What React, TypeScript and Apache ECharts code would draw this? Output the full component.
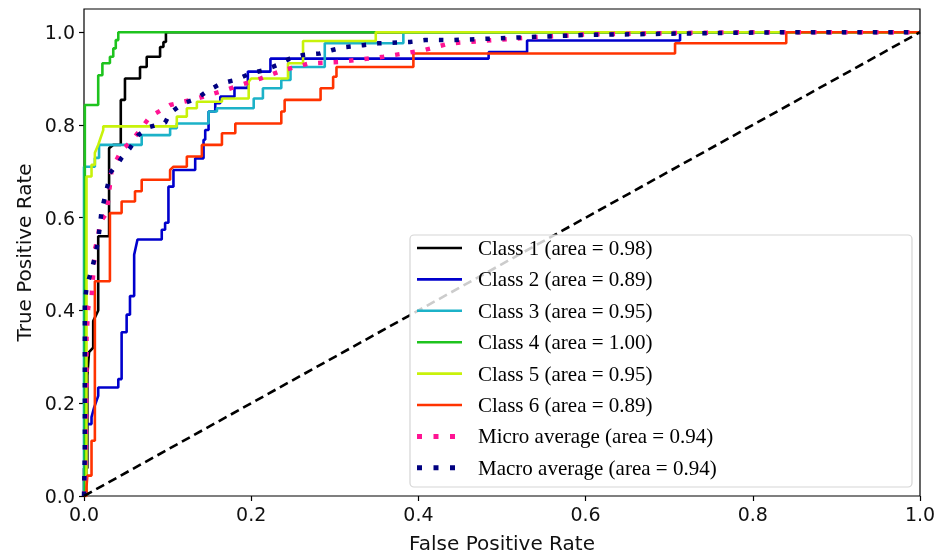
import React, { useEffect, useRef } from "react";
import * as echarts from "echarts";

const seriesNames = [
  "Class 1 (area = 0.98)",
  "Class 2 (area = 0.89)",
  "Class 3 (area = 0.95)",
  "Class 4 (area = 1.00)",
  "Class 5 (area = 0.95)",
  "Class 6 (area = 0.89)",
  "Micro average (area = 0.94)",
  "Macro average (area = 0.94)",
];

const xTicks = [0, 0.2, 0.4, 0.6, 0.8, 1.0];
const yTicks = [0, 0.2, 0.4, 0.6, 0.8, 1.0];

const class1 = [[0,0],[0,0.06],[0.004,0.06],[0.004,0.26],[0.006,0.31],[0.011,0.32],[0.011,0.377],[0.017,0.40],[0.017,0.56],[0.03,0.56],[0.03,0.75],[0.035,0.757],[0.044,0.757],[0.044,0.854],[0.049,0.854],[0.049,0.90],[0.067,0.90],[0.067,0.925],[0.075,0.925],[0.075,0.947],[0.091,0.947],[0.091,0.968],[0.095,0.968],[0.095,0.979],[0.098,0.979],[0.098,1],[1,1]];

const class2 = [[0,0],[0.003,0],[0.003,0.155],[0.009,0.155],[0.009,0.17],[0.012,0.19],[0.017,0.216],[0.017,0.234],[0.041,0.234],[0.041,0.252],[0.045,0.252],[0.045,0.353],[0.051,0.353],[0.051,0.391],[0.055,0.391],[0.055,0.431],[0.06,0.431],[0.06,0.52],[0.064,0.553],[0.093,0.553],[0.093,0.574],[0.097,0.574],[0.097,0.589],[0.101,0.589],[0.101,0.667],[0.107,0.667],[0.107,0.703],[0.133,0.703],[0.133,0.728],[0.143,0.728],[0.143,0.768],[0.145,0.768],[0.145,0.789],[0.149,0.789],[0.149,0.829],[0.157,0.829],[0.157,0.847],[0.163,0.847],[0.163,0.861],[0.18,0.861],[0.18,0.88],[0.196,0.88],[0.196,0.915],[0.223,0.915],[0.223,0.943],[0.484,0.943],[0.484,0.957],[0.53,0.957],[0.53,0.982],[0.713,0.982],[0.713,1],[1,1]];

const class3 = [[0,0],[0,0.71],[0.013,0.71],[0.013,0.729],[0.018,0.729],[0.018,0.757],[0.069,0.757],[0.069,0.778],[0.103,0.778],[0.103,0.793],[0.111,0.793],[0.111,0.803],[0.149,0.803],[0.149,0.829],[0.159,0.829],[0.159,0.836],[0.203,0.836],[0.203,0.857],[0.214,0.857],[0.214,0.879],[0.236,0.879],[0.236,0.897],[0.247,0.897],[0.247,0.925],[0.288,0.925],[0.288,0.976],[0.382,0.976],[0.382,1],[1,1]];

const class4 = [[0,0],[0.001,0],[0.001,0.843],[0.017,0.843],[0.017,0.907],[0.022,0.907],[0.022,0.933],[0.031,0.933],[0.031,0.947],[0.035,0.947],[0.035,0.965],[0.038,0.965],[0.038,0.983],[0.041,0.983],[0.041,1],[1,1]];

const class5 = [[0,0],[0.003,0],[0.003,0.592],[0.003,0.689],[0.009,0.689],[0.009,0.714],[0.013,0.714],[0.013,0.74],[0.017,0.757],[0.023,0.789],[0.023,0.797],[0.111,0.797],[0.111,0.818],[0.123,0.818],[0.123,0.836],[0.135,0.836],[0.135,0.85],[0.165,0.85],[0.165,0.857],[0.197,0.857],[0.197,0.893],[0.2,0.9],[0.244,0.9],[0.244,0.933],[0.262,0.933],[0.262,0.981],[0.349,0.981],[0.349,1],[1,1]];

const class6 = [[0,0],[0.003,0],[0.003,0.02],[0.004,0.044],[0.009,0.044],[0.009,0.119],[0.013,0.119],[0.013,0.463],[0.031,0.463],[0.031,0.61],[0.045,0.61],[0.045,0.635],[0.061,0.635],[0.061,0.657],[0.069,0.657],[0.069,0.682],[0.103,0.682],[0.103,0.703],[0.107,0.71],[0.123,0.71],[0.123,0.732],[0.141,0.732],[0.141,0.757],[0.165,0.757],[0.165,0.782],[0.181,0.782],[0.181,0.803],[0.236,0.803],[0.236,0.829],[0.24,0.829],[0.24,0.854],[0.283,0.854],[0.283,0.879],[0.298,0.879],[0.298,0.904],[0.302,0.904],[0.302,0.925],[0.394,0.925],[0.394,0.954],[0.707,0.954],[0.707,0.976],[0.84,0.976],[0.84,1],[1,1]];

const microAvg = [[0,0],[0.001,0.01],[0.002,0.1],[0.003,0.26],[0.003,0.34],[0.005,0.406],[0.009,0.428],[0.011,0.477],[0.013,0.531],[0.017,0.56],[0.019,0.589],[0.027,0.61],[0.029,0.639],[0.033,0.703],[0.045,0.746],[0.057,0.765],[0.079,0.818],[0.103,0.843],[0.135,0.857],[0.169,0.875],[0.187,0.886],[0.211,0.9],[0.238,0.918],[0.27,0.933],[0.306,0.936],[0.358,0.947],[0.406,0.961],[0.438,0.976],[0.49,0.983],[0.546,0.99],[0.6,0.995],[0.7,0.998],[0.8,1],[1,1]];

const macroAvg = [[0,0],[0.001,0.1],[0.001,0.3],[0.001,0.417],[0.003,0.449],[0.009,0.488],[0.013,0.514],[0.017,0.553],[0.021,0.614],[0.029,0.675],[0.031,0.696],[0.041,0.718],[0.045,0.729],[0.055,0.75],[0.065,0.778],[0.079,0.796],[0.097,0.805],[0.103,0.826],[0.119,0.847],[0.135,0.857],[0.149,0.875],[0.165,0.89],[0.181,0.897],[0.199,0.911],[0.215,0.918],[0.231,0.929],[0.246,0.943],[0.262,0.951],[0.282,0.954],[0.296,0.961],[0.312,0.968],[0.334,0.972],[0.352,0.976],[0.39,0.979],[0.408,0.983],[0.44,0.983],[0.484,0.986],[0.54,0.99],[0.6,0.994],[0.71,0.997],[0.84,1],[1,1]];

const chance = [[0, 0], [1, 1]];

const classData = [class1, class2, class3, class4, class5, class6];
const classColors = ["#000000", "#0000cc", "#1cb2c8", "#1ec31e", "#c8f20a", "#ff3300"];

const solidIcon = "path://M0,0h45v2.6h-45z";
const dottedIcon = "path://M0,0h5v5h-5z M16.5,0h5v5h-5z M33,0h5v5h-5z M45,2.5z";

export default function App() {
  const ref = useRef<HTMLDivElement>(null);
  useEffect(() => {
    if (!ref.current) return;
    const chart = echarts.init(ref.current, undefined, { renderer: "svg" });
    const series: any[] = classData.map((d, i) => ({
      name: seriesNames[i],
      type: "line",
      data: d,
      showSymbol: false,
      symbol: "none",
      lineStyle: { color: classColors[i], width: 2.6 },
      itemStyle: { color: classColors[i] },
      z: 2,
    }));
    series.push({
      name: seriesNames[6],
      type: "line",
      data: microAvg,
      symbol: "none",
      lineStyle: { color: "#ff1493", width: 4.5, type: [4.5, 11], cap: "butt" },
      itemStyle: { color: "#ff1493" },
      z: 3,
    });
    series.push({
      name: seriesNames[7],
      type: "line",
      data: macroAvg,
      symbol: "none",
      lineStyle: { color: "#000080", width: 4.5, type: [4.5, 11], cap: "butt" },
      itemStyle: { color: "#000080" },
      z: 3,
    });
    series.push({
      name: "chance",
      type: "line",
      data: chance,
      symbol: "none",
      lineStyle: { color: "#000", width: 2.6, type: [9, 5] },
      z: 3,
      silent: true,
    });
    chart.setOption({
      animation: false,
      grid: {
        left: 84, right: 23, top: 9, bottom: 61,
        show: true, borderColor: "#000", borderWidth: 1.2, backgroundColor: "transparent",
      },
      xAxis: {
        type: "value", min: 0, max: 1, interval: 0.2,
        name: "False Positive Rate", nameLocation: "middle", nameGap: 37,
        nameTextStyle: { fontFamily: "DejaVu Sans", fontSize: 20, color: "#111" },
        axisLine: { show: false },
        axisTick: { show: true, length: 5, lineStyle: { color: "#000", width: 1.2 }, customValues: xTicks },
        axisLabel: {
          fontFamily: "DejaVu Sans", fontSize: 19, color: "#111", margin: 8,
          customValues: xTicks, formatter: (v: number) => v.toFixed(1),
        },
        splitLine: { show: false },
      },
      yAxis: {
        type: "value", min: 0, max: 1.05,
        name: "True Positive Rate", nameLocation: "middle", nameGap: 48,
        nameTextStyle: { fontFamily: "DejaVu Sans", fontSize: 20, color: "#111" },
        axisLine: { show: false },
        axisTick: { show: true, length: 5, lineStyle: { color: "#000", width: 1.2 }, customValues: yTicks },
        axisLabel: {
          fontFamily: "DejaVu Sans", fontSize: 19, color: "#111", margin: 9,
          customValues: yTicks, formatter: (v: number) => v.toFixed(1),
        },
        splitLine: { show: false },
      },
      graphic: [
        {
          type: "rect", z: 10,
          shape: { x: 410, y: 235, width: 502, height: 252, r: 4 },
          style: { fill: "rgba(255,255,255,0.8)", stroke: "#d5d5d5", lineWidth: 1.2 },
        },
      ],
      legend: {
        data: seriesNames.map((n, i) => ({ name: n, icon: i < 6 ? solidIcon : dottedIcon })),
        orient: "vertical",
        left: 410, top: 235,
        padding: [2, 10, 8, 7],
        itemWidth: 45, itemHeight: 14, itemGap: 9.4,
        z: 11,
        textStyle: { fontFamily: "Liberation Serif", fontSize: 21, color: "#000", lineHeight: 22, padding: [0, 0, 0, 11] },
      },
      series,
    });
    return () => chart.dispose();
  }, []);
  return <div ref={ref} style={{ position: "fixed", left: 0, top: 0, width: 943, height: 558 }} />;
}
